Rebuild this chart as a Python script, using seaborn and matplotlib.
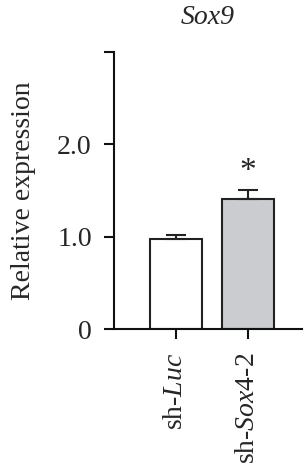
import matplotlib
matplotlib.use("Agg")
import matplotlib.pyplot as plt
import seaborn as sns
import pandas as pd

categories = ["sh-$\\mathit{Luc}$", "sh-$\\mathit{Sox4}$-2"]
values = [0.98, 1.41]
errors = [0.04, 0.10]
colors = ["#ffffff", "#c9cbd1"]
yticks = [0, 1, 2, 3]
yticklabels = ["0", "1.0", "2.0", ""]

sns.set_theme(style="ticks")
plt.rcParams['font.family'] = ['Liberation Serif', 'DejaVu Serif']
plt.rcParams['mathtext.fontset'] = 'custom'
plt.rcParams['mathtext.rm'] = 'Liberation Serif'
plt.rcParams['mathtext.it'] = 'Liberation Serif:italic'

fig = plt.figure(figsize=(3.04, 4.69), dpi=100)
ax = fig.add_axes([114/304, 140/469, (302-114)/304, (329-52)/469])

df = pd.DataFrame({"group": categories, "value": values})
sns.barplot(data=df, x="group", y="value", hue="group", palette=colors,
            width=0.72, edgecolor="#222222", linewidth=1.5, legend=False,
            errorbar=None, ax=ax)
ax.errorbar(range(len(values)), values, yerr=[[0]*len(errors), errors],
            fmt="none", ecolor="#222222", elinewidth=1.5, capsize=7.5, capthick=1.5)
ax.text(1, values[1] + errors[1] + 0.19, "*", ha="center", va="center", fontsize=24, color="#222222")

ax.set_xlim(-0.86, 1.75)
ax.set_ylim(0, 3)
ax.set_yticks(yticks)
ax.set_yticklabels(yticklabels)
ax.set_xlabel("")
ax.set_ylabel("Relative expression", fontsize=20, labelpad=15)
ax.set_title("Sox9", fontsize=20, style="italic", pad=20, x=0.5)
ax.tick_params(axis="y", labelsize=20, length=7, width=1.5, color="#111111", pad=9)
ax.tick_params(axis="x", labelsize=20, length=7, width=1.5, color="#111111", labelrotation=90, pad=10)
for s in ["top", "right"]:
    ax.spines[s].set_visible(False)
for s in ["left", "bottom"]:
    ax.spines[s].set_linewidth(1.5)
    ax.spines[s].set_color("#111111")
ax.set_facecolor("white")
fig.patch.set_facecolor("white")

fig.savefig("out.png", dpi=100)
